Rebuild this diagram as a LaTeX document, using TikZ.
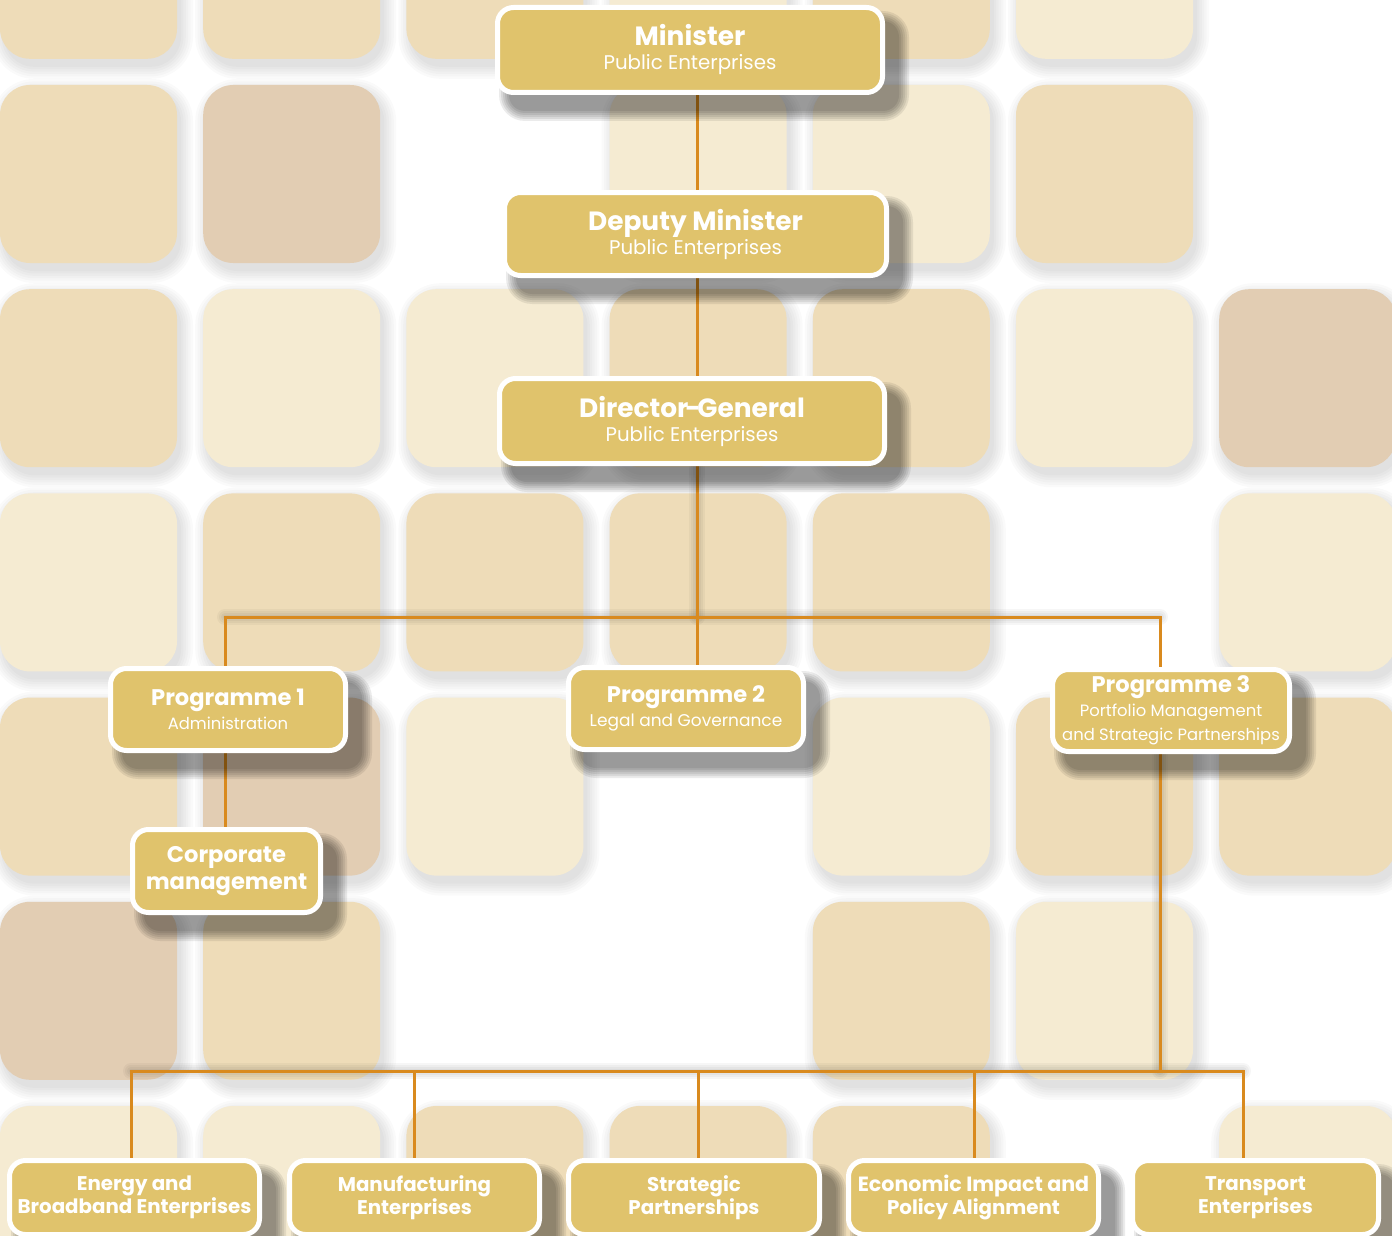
\documentclass[tikz,border=0pt]{standalone}
\usepackage{fontspec}
\setmainfont{Poppins}
\pgfdeclarelayer{bg}
\pgfdeclarelayer{wirelayer}
\pgfdeclarelayer{boxshadow}
\pgfsetlayers{bg,wirelayer,boxshadow,main}
\definecolor{tileL}{HTML}{F5EBD2}
\definecolor{tileM}{HTML}{EEDCB8}
\definecolor{tileD}{HTML}{E2CDB3}
\definecolor{gold}{HTML}{E0C36C}
\definecolor{wirecol}{HTML}{D98A1E}
\newcommand{\bigt}[1]{{\fontsize{13.2}{12.5}\selectfont\bfseries #1}}
\newcommand{\bigs}[1]{{\fontsize{9.9}{12.5}\selectfont #1}}
\newcommand{\midt}[1]{{\fontsize{11.3}{11}\selectfont\bfseries #1}}
\newcommand{\mids}[1]{{\fontsize{8.2}{11}\selectfont #1}}
\def\notile{N}
\begin{document}
\begin{tikzpicture}[x=0.5pt,y=-0.5pt,
  orgbox/.style={draw=white,line width=2.5pt,fill=gold,rounded corners=8pt,
    text=white,align=center,inner sep=0pt},
  bigbox/.style={orgbox,minimum width=192.5pt,minimum height=42.5pt},
  progbox/.style={orgbox,minimum width=117.5pt,minimum height=41pt},
  botbox/.style={orgbox,minimum width=125pt,minimum height=37pt,
    font=\fontsize{9.9}{11.5}\selectfont\bfseries},
  wire/.style={draw=wirecol,line width=1.5pt},
  wireshadow/.style={draw=black,opacity=0.035,line cap=round},
  tshadow/.style={fill=black,opacity=0.018},
  bshadow/.style={fill=black,opacity=0.08}
]
\useasboundingbox (0,0) rectangle (1392,1236);
\begin{pgfonlayer}{bg}
\fill[white] (0,0) rectangle (1392,1236);
\foreach \r/\cols in {0/{M,M,M,L,M,L,N},1/{M,D,N,L,L,M,N},2/{M,L,L,M,M,L,D},3/{L,M,M,M,M,N,L},4/{M,D,L,N,L,M,M},5/{D,M,N,N,M,L,N},6/{L,L,M,M,M,N,L}}{
  \foreach \c [count=\i from 0] in \cols {
    \ifx\c\notile\else
      \pgfmathsetmacro\tx{\i*203.2}
      \pgfmathsetmacro\ty{85+(\r-1)*204.2}
      \foreach \k in {0,1,2,3,4,5} {
        \fill[tshadow,rounded corners={15pt+\k*1.2pt}] ({\tx+4-\k*2.4},{\ty+6-\k*2.4}) rectangle ({\tx+181+\k*2.4},{\ty+186+\k*2.4});
      }
    \fi
  }
}
\foreach \r/\cols in {0/{M,M,M,L,M,L,N},1/{M,D,N,L,L,M,N},2/{M,L,L,M,M,L,D},3/{L,M,M,M,M,N,L},4/{M,D,L,N,L,M,M},5/{D,M,N,N,M,L,N},6/{L,L,M,M,M,N,L}}{
  \foreach \c [count=\i from 0] in \cols {
    \ifx\c\notile\else
      \fill[rounded corners=15pt,fill=tile\c] ({\i*203.2},{85+(\r-1)*204.2}) rectangle ++(177,178);
    \fi
  }
}
\end{pgfonlayer}
% nodes
\node[bigbox] (min) at (690,50) {\bigt{Minister}\\\bigs{Public Enterprises}};
\node[bigbox,minimum width=191pt,minimum height=41.5pt] (dep) at (695.5,234) {\bigt{Deputy Minister}\\\bigs{Public Enterprises}};
\node[bigbox] (dg) at (692,421) {\bigt{Director\kern-1.6pt-\kern-1.6pt General}\\\bigs{Public Enterprises}};
\node[progbox] (p1) at (228,709.5) {\midt{Programme 1}\\\mids{Administration}};
\node[progbox] (p2) at (686,708.5) {\midt{Programme 2}\\{\fontsize{8.5}{11}\selectfont Legal and Governance}};
\node[progbox,minimum width=118.5pt] (p3) at (1171,710.5) {\midt{Programme 3}\\\mids{Portfolio Management}\\\mids{and Strategic Partnerships}};
\node[orgbox,minimum width=94pt,minimum height=41.5pt,font=\fontsize{11.3}{13.5}\selectfont\bfseries] (corp) at (226.5,871) {Corporate\\management};
\node[botbox] (en) at (134.5,1197.5) {Energy and\\Broadband Enterprises};
\node[botbox] (mf) at (414.5,1197.5) {Manufacturing\\Enterprises};
\node[botbox,minimum width=125.5pt] (sp) at (694,1197.5) {Strategic\\Partnerships};
\node[botbox] (ec) at (973.5,1197.5) {\fontsize{10.3}{11.5}\selectfont Economic Impact and\\Policy Alignment};
\node[botbox,minimum width=123pt] (tr) at (1255.5,1197.5) {Transport\\Enterprises};
% box shadows
\begin{pgfonlayer}{boxshadow}
\foreach \n in {min,dep,dg,p1,p2,p3,corp,en,mf,sp,ec,tr} {
  \foreach \k in {0,1,2,3,4,5} {
    \fill[bshadow,rounded corners={8pt+\k*1pt}]
      ([xshift={7pt-\k*1pt},yshift={-8pt-\k*1pt}]\n.south west) rectangle
      ([xshift={7pt+\k*1pt},yshift={-8pt+\k*1pt}]\n.north east);
  }
}
\end{pgfonlayer}
% junction coordinates
\coordinate (j1) at (697,617);
\coordinate (ja) at (225,617);
\coordinate (jc) at (1160,617);
\coordinate (j2) at (1160,1071);
\coordinate (b1) at (131,1071);
\coordinate (b2) at (414,1071);
\coordinate (b3) at (698,1071);
\coordinate (b4) at (974,1071);
\coordinate (b5) at (1243,1071);
\begin{pgfonlayer}{wirelayer}
\begin{scope}[shift={(8,14)}]
\foreach \w in {2pt,4pt,6pt,8pt} {
  \draw[wireshadow,line width=\w] (ja) -- (jc);
  \draw[wireshadow,line width=\w] (b1) -- (b5);
  \draw[wireshadow,line width=\w] (dg.south -| j1) -- (j1);
  \draw[wireshadow,line width=\w] (p3.south -| j2) -- (j2);
}
\end{scope}
\draw[wire] (min.south -| j1) -- (dep.north -| j1);
\draw[wire] (dep.south -| j1) -- (dg.north -| j1);
\draw[wire] (dg.south -| j1) -- (j1) -- (p2.north -| j1);
\draw[wire] (p1.north -| ja) -- (ja) -- (jc) -- (p3.north -| jc);
\draw[wire] (p1.south -| ja) -- (corp.north -| ja);
\draw[wire] (p3.south -| j2) -- (j2);
\draw[wire] (en.north -| b1) -- (b1) -- (b5) -- (tr.north -| b5);
\draw[wire] (b2) -- (mf.north -| b2);
\draw[wire] (b3) -- (sp.north -| b3);
\draw[wire] (b4) -- (ec.north -| b4);
\end{pgfonlayer}
\end{tikzpicture}
\end{document}
